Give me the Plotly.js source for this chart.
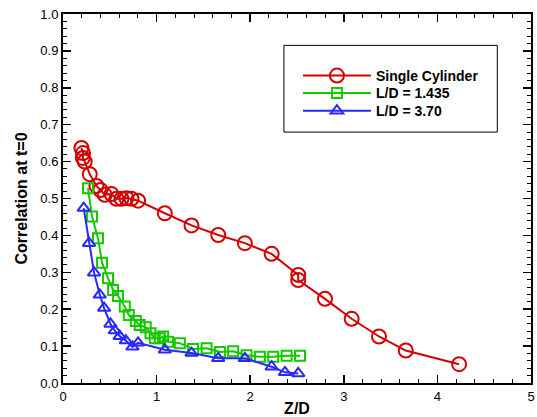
<!DOCTYPE html>
<html>
<head>
<meta charset="utf-8">
<script src="https://cdn.plot.ly/plotly-3.0.1.min.js"></script>
<style>html,body{margin:0;padding:0;background:#fff;}#chart{width:537px;height:417px;}</style>
</head>
<body>
<div id="chart"></div>
<script>
var singleX = [0.197, 0.214, 0.212, 0.232, 0.286, 0.357, 0.400, 0.446, 0.518, 0.571, 0.625, 0.678, 0.732, 0.802, 1.088, 1.373, 1.658, 1.943, 2.229, 2.513, 2.513, 2.799, 3.084, 3.376, 3.662, 4.232];
var singleY = [0.637, 0.623, 0.610, 0.600, 0.566, 0.534, 0.523, 0.510, 0.512, 0.499, 0.499, 0.501, 0.499, 0.494, 0.460, 0.427, 0.401, 0.379, 0.350, 0.293, 0.279, 0.228, 0.174, 0.126, 0.088, 0.051];

var ld1435X = [0.267, 0.310, 0.374, 0.417, 0.481, 0.535, 0.588, 0.660, 0.703, 0.778, 0.820, 0.884, 0.935, 0.981, 1.034, 1.070, 1.123, 1.248, 1.390, 1.534, 1.676, 1.818, 1.961, 2.104, 2.246, 2.389, 2.532];
var ld1435Y = [0.528, 0.451, 0.392, 0.326, 0.284, 0.252, 0.236, 0.207, 0.184, 0.168, 0.157, 0.151, 0.135, 0.121, 0.121, 0.126, 0.112, 0.108, 0.092, 0.094, 0.084, 0.086, 0.075, 0.071, 0.071, 0.074, 0.074];

var ld370X = [0.221, 0.278, 0.332, 0.393, 0.439, 0.507, 0.553, 0.606, 0.671, 0.742, 0.802, 1.088, 1.373, 1.658, 1.943, 2.229, 2.371, 2.513];
var ld370Y = [0.474, 0.379, 0.299, 0.239, 0.203, 0.160, 0.142, 0.127, 0.115, 0.098, 0.109, 0.090, 0.081, 0.067, 0.067, 0.044, 0.029, 0.026];

var seriesNames = ["Single Cylinder", "L/D = 1.435", "L/D = 3.70"];
var xTickVals = [0, 1, 2, 3, 4, 5];
var yTickVals = [0, 0.1, 0.2, 0.3, 0.4, 0.5, 0.6, 0.7, 0.8, 0.9, 1.0];

var red = "rgb(210,0,0)", green = "rgb(20,200,0)", blue = "rgb(40,40,255)";
var fam = "Liberation Sans, Arial, sans-serif";

var traces = [
  {x: singleX, y: singleY, name: seriesNames[0], mode: "lines+markers", type: "scatter", legend: "legend",
   line: {color: red, width: 2}, marker: {symbol: "circle-open", size: 14, color: red, line: {width: 2, color: red}}},
  {x: ld1435X, y: ld1435Y, name: seriesNames[1], mode: "lines+markers", type: "scatter", legend: "legend2",
   line: {color: green, width: 2}, marker: {symbol: "square-open", size: 10, color: green, line: {width: 2, color: green}}},
  {x: ld370X, y: ld370Y, name: seriesNames[2], mode: "lines+markers", type: "scatter", legend: "legend3",
   line: {color: blue, width: 2}, marker: {symbol: "triangle-up-open", size: 11, color: blue, line: {width: 2, color: blue}}}
];

function leg(yv) {
  return {
    x: 0.502, y: yv, xanchor: "left", yanchor: "middle",
    bgcolor: "rgba(0,0,0,0)", borderwidth: 0, itemwidth: 68,
    font: {family: fam, size: 14, color: "black", weight: "bold"}
  };
}

var axisCommon = {
  showline: true, linecolor: "black", linewidth: 2, mirror: "allticks",
  ticks: "inside", ticklen: 8, tickwidth: 1.5, tickcolor: "black",
  showgrid: false, zeroline: false,
  tickfont: {family: fam, size: 13, color: "black"}
};

var layout = {
  width: 537, height: 417,
  margin: {l: 63, r: 6, t: 14, b: 34},
  paper_bgcolor: "white", plot_bgcolor: "white",
  showlegend: true,
  legend: leg(0.832),
  legend2: leg(0.785),
  legend3: leg(0.737),
  xaxis: Object.assign({}, axisCommon, {
    range: [0, 5], tickvals: xTickVals, ticktext: xTickVals.map(String),
    minor: {dtick: 0.2, ticks: "inside", ticklen: 4, tickcolor: "black", tickwidth: 1},
    title: {text: "<b>Z/D</b>", font: {family: fam, size: 16, color: "black"}, standoff: 4}
  }),
  yaxis: Object.assign({}, axisCommon, {
    range: [0, 1], tickvals: yTickVals, ticktext: yTickVals.map(function(v){return v.toFixed(1);}),
    minor: {dtick: 0.02, ticks: "inside", ticklen: 4, tickcolor: "black", tickwidth: 1},
    title: {text: "<b>Correlation at t=0</b>", font: {family: fam, size: 16, color: "black"}, standoff: 9}
  }),
  shapes: [
    {type: "rect", xref: "paper", yref: "paper", x0: 0.472, x1: 0.928, y0: 0.68, y1: 0.915,
     line: {color: "black", width: 1}, fillcolor: "rgba(0,0,0,0)"}
  ]
};

Plotly.newPlot("chart", traces, layout, {displayModeBar: false, staticPlot: true});
</script>
</body>
</html>
